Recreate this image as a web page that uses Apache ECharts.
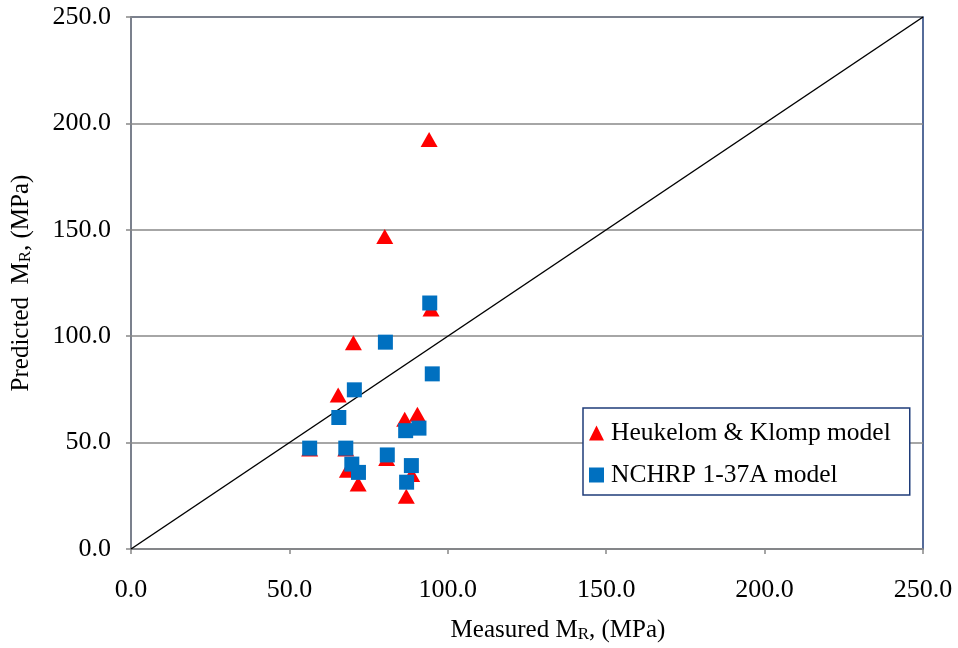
<!DOCTYPE html>
<html>
<head>
<meta charset="utf-8">
<script src="https://cdn.jsdelivr.net/npm/echarts@6/dist/echarts.min.js"></script>
<style>html,body{margin:0;padding:0;background:#fff;}#c{width:958px;height:648px;}</style>
</head>
<body>
<div id="c"></div>
<script>
var hkX = [94.7, 70.2, 65.4, 86.4, 90.4, 56.4, 67.8, 68.3, 71.7, 80.7, 88.6, 86.9, 94.1, 80.1];
var hkY = [112.8, 96.9, 72.4, 61.0, 63.3, 47.0, 47.0, 37.0, 30.6, 42.5, 35.0, 24.8, 192.4, 146.9];
var nchrpX = [94.3, 80.3, 95.1, 70.5, 65.6, 86.7, 90.9, 56.4, 67.8, 69.7, 71.8, 80.9, 88.5, 87.0];
var nchrpY = [115.6, 97.2, 82.3, 74.8, 61.8, 55.6, 56.8, 47.4, 47.4, 39.9, 36.0, 44.2, 39.2, 31.4];
var diagX = [0, 250];
var diagY = [0, 250];
var seriesNames = ['Heukelom & Klomp model', 'NCHRP 1-37A model'];

function pairs(xs, ys) { return xs.map(function (x, i) { return [x, ys[i]]; }); }

var FONT = 'Liberation Serif';
var chart = echarts.init(document.getElementById('c'));
chart.setOption({
  animation: false,
  backgroundColor: '#ffffff',
  textStyle: { fontFamily: FONT },
  grid: { left: 131, right: 35, top: 17, bottom: 96, show: true, borderColor: '#1F3C7A', borderWidth: 1.5, backgroundColor: 'transparent' },
  xAxis: {
    type: 'value', min: 0, max: 250, interval: 50,
    axisLine: { show: true, lineStyle: { color: '#888888', width: 1.5 } },
    axisTick: { show: true, length: 5, lineStyle: { color: '#888888', width: 1.5 } },
    splitLine: { show: false },
    axisLabel: { margin: 28, fontSize: 26, color: '#000', fontFamily: FONT, formatter: function (v) { return v.toFixed(1); } },
    name: '{a|Measured M}{s|R}{a|, (MPa)}',
    nameLocation: 'middle', nameGap: 64,
    nameTextStyle: {
      padding: [0, 0, 0, 62],
      rich: {
        a: { fontSize: 25, fontFamily: FONT, color: '#000', lineHeight: 30, verticalAlign: 'bottom' },
        s: { fontSize: 17, fontFamily: FONT, color: '#000', lineHeight: 18, verticalAlign: 'bottom' }
      }
    }
  },
  yAxis: {
    type: 'value', min: 0, max: 250, interval: 50,
    axisLine: { show: true, lineStyle: { color: '#888888', width: 1.5 } },
    axisTick: { show: true, length: 5, lineStyle: { color: '#888888', width: 1.5 } },
    splitLine: { show: true, lineStyle: { color: '#888888', width: 1.5 } },
    axisLabel: { margin: 20, fontSize: 26, color: '#000', fontFamily: FONT, formatter: function (v) { return v.toFixed(1); } },
    name: '{a|Predicted  M}{s|R}{a|, (MPa)}',
    nameLocation: 'middle', nameGap: 97, nameRotate: 90,
    nameTextStyle: {
      rich: {
        a: { fontSize: 25, fontFamily: FONT, color: '#000', lineHeight: 30, verticalAlign: 'bottom' },
        s: { fontSize: 17, fontFamily: FONT, color: '#000', lineHeight: 18, verticalAlign: 'bottom' }
      }
    }
  },
  legend: {
    left: 583, top: 408, orient: 'vertical',
    padding: [12, 19, 7, 6],
    itemGap: 16, itemWidth: 15, itemHeight: 15,
    backgroundColor: '#ffffff', borderColor: '#1F3C7A', borderWidth: 1.5,
    textStyle: { fontSize: 25.5, fontFamily: FONT, color: '#000', lineHeight: 25, padding: [0, 0, 0, 2] },
    data: [{ name: seriesNames[0], icon: 'triangle' }, { name: seriesNames[1], icon: 'rect' }]
  },
  series: [
    {
      type: 'line', data: pairs(diagX, diagY), symbol: 'none', silent: true,
      lineStyle: { color: '#000', width: 1.5 }, z: 1
    },
    {
      name: seriesNames[0], type: 'scatter', data: pairs(hkX, hkY),
      symbol: 'triangle', symbolSize: [17, 15],
      itemStyle: { color: '#FF0000', opacity: 1 }, z: 2
    },
    {
      name: seriesNames[1], type: 'scatter', data: pairs(nchrpX, nchrpY),
      symbol: 'rect', symbolSize: [15, 15],
      itemStyle: { color: '#0070C0', opacity: 1 }, z: 3
    }
  ]
});
</script>
</body>
</html>
